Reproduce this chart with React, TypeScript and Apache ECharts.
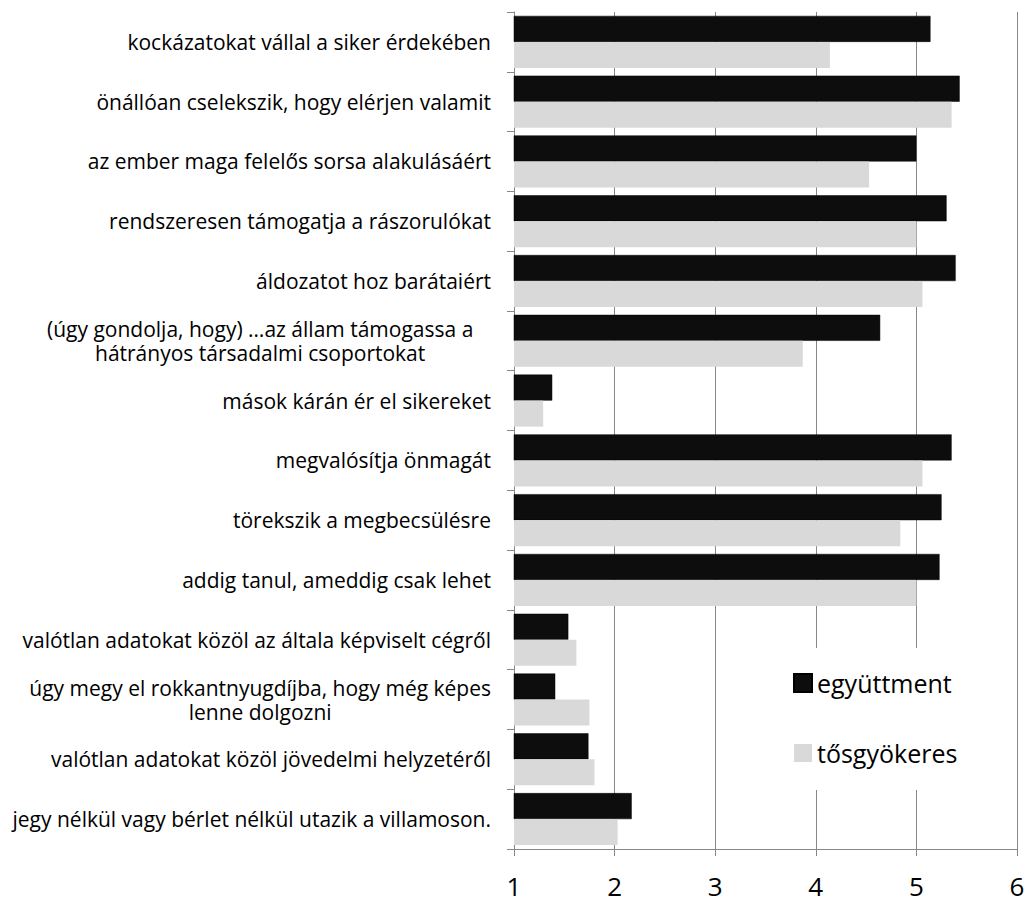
import React, { useEffect, useRef } from "react";
import * as echarts from "echarts";

const categories = [
  "kockázatokat vállal a siker érdekében",
  "önállóan cselekszik, hogy elérjen valamit",
  "az ember maga felelős sorsa alakulásáért",
  "rendszeresen támogatja a rászorulókat",
  "áldozatot hoz barátaiért",
  "(úgy gondolja, hogy) …az állam támogassa a\nhátrányos társadalmi csoportokat",
  "mások kárán ér el sikereket",
  "megvalósítja önmagát",
  "törekszik a megbecsülésre",
  "addig tanul, ameddig csak lehet",
  "valótlan adatokat közöl az általa képviselt cégről",
  "úgy megy el rokkantnyugdíjba, hogy még képes\nlenne dolgozni",
  "valótlan adatokat közöl jövedelmi helyzetéről",
  "jegy nélkül vagy bérlet nélkül utazik a villamoson.",
];

const egyuttment = [5.14, 5.43, 5.0, 5.3, 5.39, 4.64, 1.38, 5.35, 5.25, 5.23, 1.54, 1.41, 1.74, 2.17];
const tosgyokeres = [4.14, 5.35, 4.53, 5.0, 5.06, 3.87, 1.29, 5.06, 4.84, 5.0, 1.62, 1.75, 1.8, 2.03];

const seriesNames = ["együttment", "tősgyökeres"];
const xTicks = { min: 1, max: 6, interval: 1 };

const LABEL_FONT = "Open Sans";
const LABEL_SIZE = 21;
const LABEL_LH = 24;

function measure(text: string): number {
  const c = document.createElement("canvas");
  const ctx = c.getContext("2d");
  if (!ctx) return text.length * 10;
  ctx.font = `${LABEL_SIZE}px "${LABEL_FONT}"`;
  return ctx.measureText(text).width;
}

export default function App() {
  const ref = useRef<HTMLDivElement>(null);
  useEffect(() => {
    if (!ref.current) return;
    const chart = echarts.init(ref.current, null, { renderer: "svg" });
    const axisColor = "#878787";
    chart.setOption({
      animation: false,
      grid: {
        left: 514,
        right: 18,
        top: 12,
        bottom: 55,
        containLabel: false,
        outerBoundsMode: "none",
      },
      legend: {
        orient: "vertical",
        left: 787,
        top: 648,
        padding: [20, 24, 22, 6],
        itemGap: 40,
        itemWidth: 18,
        itemHeight: 18,
        backgroundColor: "#ffffff",
        icon: "rect",
        data: seriesNames,
        textStyle: {
          fontFamily: LABEL_FONT,
          fontSize: 25,
          lineHeight: 30,
          color: "#000",
        },
      },
      xAxis: {
        type: "value",
        min: xTicks.min,
        max: xTicks.max,
        interval: xTicks.interval,
        axisLine: { show: true, lineStyle: { color: axisColor, width: 1 } },
        axisTick: { show: true, length: 7, lineStyle: { color: axisColor } },
        splitLine: { show: true, lineStyle: { color: axisColor, width: 1 } },
        axisLabel: {
          fontFamily: LABEL_FONT,
          fontSize: 26,
          color: "#000",
          margin: 24,
        },
      },
      yAxis: {
        type: "category",
        inverse: true,
        data: categories,
        axisLine: { show: true, lineStyle: { color: axisColor, width: 1 } },
        axisTick: { show: true, length: 7, lineStyle: { color: axisColor } },
        axisLabel: {
          margin: 23,
          fontFamily: LABEL_FONT,
          fontSize: LABEL_SIZE,
          lineHeight: LABEL_LH,
          color: "#000",
          formatter: (value: string) => {
            if (value.indexOf("\n") >= 0) {
              return `{c|${value}}`;
            }
            return value;
          },
          rich: {
            c: {
              width: Math.max(
                ...categories
                  .filter((s) => s.indexOf("\n") >= 0)
                  .map((s) => s.split("\n")[0])
                  .map(measure)
              ),
              align: "center",
              fontFamily: LABEL_FONT,
              fontSize: LABEL_SIZE,
              lineHeight: LABEL_LH,
              color: "#000",
            },
          },
        },
      },
      series: [
        {
          name: seriesNames[0],
          type: "bar",
          data: egyuttment,
          barGap: "0%",
          barCategoryGap: "13%",
          itemStyle: { color: "#0d0d0d", borderColor: "#000", borderWidth: 0.5 },
        },
        {
          name: seriesNames[1],
          type: "bar",
          data: tosgyokeres,
          barGap: "0%",
          barCategoryGap: "13%",
          itemStyle: { color: "#d9d9d9" },
        },
      ],
    });
    return () => chart.dispose();
  }, []);
  return (
    <div
      ref={ref}
      style={{ position: "fixed", left: 0, top: 0, width: 1035, height: 904, background: "#fff" }}
    />
  );
}
